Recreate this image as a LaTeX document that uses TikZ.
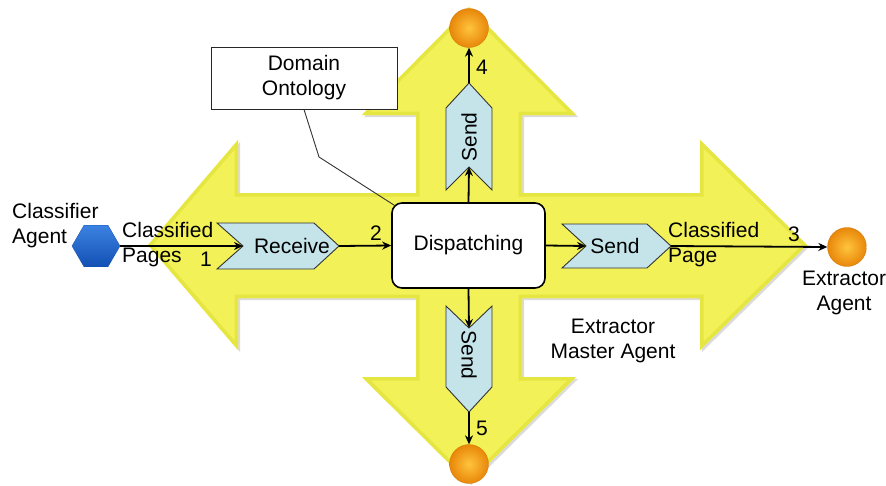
\documentclass[tikz,border=0pt]{standalone}
\usepackage{fontspec}
\setmainfont{Liberation Sans}
\usetikzlibrary{arrows.meta,shapes.geometric,calc}

\definecolor{crossfill}{RGB}{243,241,88}
\definecolor{crossedge}{RGB}{230,230,66}
\definecolor{chevfill}{RGB}{196,228,234}
\definecolor{orangein}{RGB}{255,196,60}
\definecolor{orangeout}{RGB}{232,135,10}
\definecolor{hexlight}{RGB}{60,130,225}
\definecolor{hexdark}{RGB}{18,80,180}

\tikzset{
  lbl/.style={font=\fontsize{21}{25}\selectfont, inner sep=0pt},
  chev/.style={draw=black!80, line width=0.9pt, fill=chevfill},
  flow/.style={line width=1.8pt, -{Stealth[length=9pt,width=8pt]}},
  agentball/.style={circle, inner sep=0pt, minimum size=39pt,
    inner color=orangein, outer color=orangeout, draw=orangeout!90!black, line width=0.3pt},
  hexagent/.style={regular polygon, regular polygon sides=6, inner sep=0pt,
    minimum size=48pt, top color=hexlight, bottom color=hexdark, draw=hexdark, line width=0.3pt},
  dispbox/.style={draw, line width=1.6pt, rounded corners=10pt, fill=white,
    minimum width=153pt, minimum height=85pt, font=\fontsize{21}{25}\selectfont},
  notebox/.style={draw=black!85, line width=1pt, fill=white, align=center,
    minimum width=186pt, minimum height=62pt, font=\fontsize{21}{25}\selectfont},
}

\begin{document}
\begin{tikzpicture}[x=1pt, y=-1pt]
\useasboundingbox (0,0) rectangle (886,485);

% the four-way yellow arrow
\def\crosspath{(148,245) -- (238,140) -- (238,193) -- (416,193) -- (416,115) -- (362,115)
  -- (469,7) -- (576,115) -- (522,115) -- (522,193) -- (700,193) -- (700,140)
  -- (807,245) -- (700,350) -- (700,298) -- (522,298) -- (522,377) -- (576,377)
  -- (469,483) -- (362,377) -- (416,377) -- (416,298) -- (238,298) -- (238,350) -- cycle}
\fill[black!14, shift={(2,2)}] \crosspath;
\fill[crossfill] \crosspath;
\begin{scope}
  \clip \crosspath;
  \draw[crossedge, line width=7pt, line join=miter] \crosspath;
\end{scope}

% chevron process steps
\draw[chev] (217,223) -- (243,246) -- (217,269) -- (314,269) -- (339,246) -- (314,223) -- cycle;
\draw[chev] (562,224) -- (586,246) -- (562,268) -- (647,268) -- (671,246) -- (647,224) -- cycle;
\draw[chev] (446,190) -- (469,167) -- (492,190) -- (492,108) -- (469,83) -- (446,108) -- cycle;
\draw[chev] (446,306) -- (469,328) -- (492,306) -- (492,387) -- (469,412) -- (446,387) -- cycle;

\coordinate (recvIn) at (243,246);
\coordinate (recvOut) at (339,246);
\coordinate (sendRIn) at (586,246);
\coordinate (sendROut) at (671,246);
\coordinate (sendUIn) at (469,167);
\coordinate (sendUOut) at (469,83);
\coordinate (sendDIn) at (469,328);
\coordinate (sendDOut) at (469,412);

\node[lbl] (recv) at (292,246) {Receive};
\node[lbl] (sendR) at (615,246) {Send};
\node[lbl, rotate=90] (sendU) at (469,137) {Send};
\node[lbl, rotate=-90] (sendD) at (469,355) {Send};

% central dispatcher and ontology
\node[dispbox] (disp) at (468.5,245.5) {Dispatching};
\node[notebox] (onto) at (304,78) {Domain\\Ontology};
\coordinate (elbow) at (319,157);
\draw[black!80, line width=0.9pt] (onto.south) -- (elbow) -- ([shift={(3,3)}]disp.north west);

% agents
\node[hexagent] (classifier) at (96,246) {};
\node[agentball] (extractor) at (847,247) {};
\node[agentball] (topAgent) at (469,28) {};
\node[agentball] (botAgent) at (469,464) {};

% message flow
\draw[flow] (classifier.east) -- (recvIn);
\draw[flow] (recvOut) -- (disp.west);
\draw[flow] (disp.east) -- (sendRIn);
\draw[flow] (sendROut) -- (extractor.west);
\draw[flow] (disp.north) -- (sendUIn);
\draw[flow] (sendUOut) -- (topAgent.south);
\draw[flow] (disp.south) -- (sendDIn);
\draw[flow] (sendDOut) -- (botAgent.north);

% labels
\node[lbl, align=left, anchor=west] (clsLbl) at (12,226) {Classifier\\Agent};
\node[lbl, align=left, anchor=west] (pagesLbl) at (122,245) {Classified\\Pages};
\node[lbl] (n1) at (206,259) {1};
\node[lbl] (n2) at (376,233) {2};
\node[lbl, align=left, anchor=west] (pageLbl) at (668,245) {Classified\\Page};
\node[lbl] (n3) at (794,234) {3};
\node[lbl] (n4) at (482,67) {4};
\node[lbl] (n5) at (482,428) {5};
\node[lbl, align=center] (extLbl) at (844,293) {Extractor\\Agent};
\node[lbl, align=center] (masterLbl) at (613,341) {Extractor\\Master Agent};
\end{tikzpicture}
\end{document}
